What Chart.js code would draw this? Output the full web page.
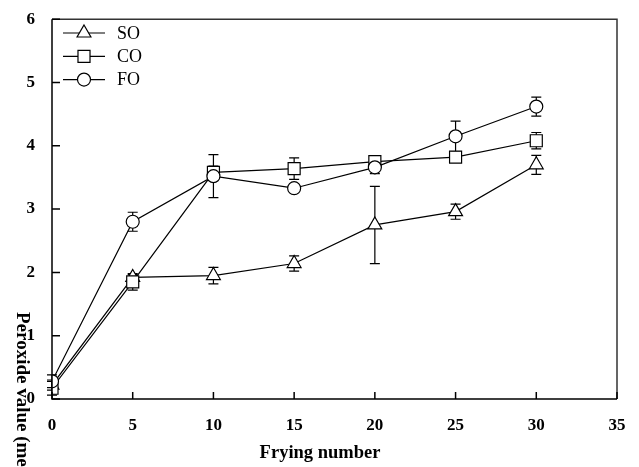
<!DOCTYPE html>
<html>
<head>
<meta charset="utf-8">
<script src="https://cdn.jsdelivr.net/npm/chart.js@4.4.1/dist/chart.umd.min.js"></script>
<style>
  body { margin: 0; background: #fff; }
  #wrap { width: 639px; height: 467px; }
</style>
</head>
<body>
<div id="wrap"><canvas id="chartPV"></canvas></div>
<script>
const frying = [0, 5, 10, 15, 20, 25, 30];
const soVals = [0.22, 1.92, 1.95, 2.14, 2.75, 2.96, 3.70];
const soErr  = [0.08, 0.05, 0.13, 0.12, 0.61, 0.12, 0.15];
const coVals = [0.17, 1.85, 3.58, 3.64, 3.75, 3.82, 4.08];
const coErr  = [0.11, 0.13, 0.10, 0.17, 0.05, 0.05, 0.13];
const foVals = [0.28, 2.80, 3.52, 3.33, 3.66, 4.15, 4.62];
const foErr  = [0.10, 0.15, 0.34, 0.06, 0.10, 0.24, 0.15];
const xTicks = [0, 5, 10, 15, 20, 25, 30, 35];
const yTicks = [0, 1, 2, 3, 4, 5, 6];

const serif = "'Liberation Serif', 'Times New Roman', serif";
const pts = vals => vals.map((v, i) => ({ x: frying[i], y: v }));

// order: lower value is drawn on top, so FO sits above CO above SO
const series = [
  { label: 'SO', data: pts(soVals), err: soErr, pointStyle: 'triangle', pointRadius: 8, order: 2 },
  { label: 'CO', data: pts(coVals), err: coErr, pointStyle: 'rect', pointRadius: 8.5, order: 1 },
  { label: 'FO', data: pts(foVals), err: foErr, pointStyle: 'circle', pointRadius: 6.5, order: 0 }
];

// error bars under the markers
const errorBars = {
  id: 'errorBars',
  beforeDatasetsDraw(chart) {
    const { ctx, scales: { x, y } } = chart;
    ctx.save();
    ctx.strokeStyle = '#000';
    ctx.lineWidth = 1.2;
    chart.data.datasets.forEach(ds => {
      ds.data.forEach((p, i) => {
        const e = ds.err[i];
        const px = x.getPixelForValue(p.x);
        const top = y.getPixelForValue(p.y + e);
        const bot = y.getPixelForValue(p.y - e);
        ctx.beginPath();
        ctx.moveTo(px, top); ctx.lineTo(px, bot);
        ctx.moveTo(px - 5, top); ctx.lineTo(px + 5, top);
        ctx.moveTo(px - 5, bot); ctx.lineTo(px + 5, bot);
        ctx.stroke();
      });
    });
    ctx.restore();
  }
};

// box, inward ticks, titles and legend
const decor = {
  id: 'decor',
  afterDraw(chart) {
    const { ctx, chartArea: a, scales: { x, y } } = chart;
    ctx.save();
    ctx.lineWidth = 1.5;
    ctx.strokeStyle = '#333';
    ctx.beginPath();
    ctx.moveTo(a.left, a.top); ctx.lineTo(a.right, a.top); ctx.lineTo(a.right, a.bottom);
    ctx.stroke();
    ctx.strokeStyle = '#000';
    ctx.beginPath();
    ctx.moveTo(a.left, a.top); ctx.lineTo(a.left, a.bottom); ctx.lineTo(a.right, a.bottom);
    ctx.stroke();
    ctx.beginPath();
    xTicks.forEach(v => {
      const px = x.getPixelForValue(v);
      ctx.moveTo(px, a.bottom); ctx.lineTo(px, a.bottom - 7);
    });
    yTicks.forEach(v => {
      const py = y.getPixelForValue(v);
      ctx.moveTo(a.left, py); ctx.lineTo(a.left + 8, py);
    });
    ctx.stroke();

    // axis titles
    ctx.fillStyle = '#000';
    ctx.font = 'bold 18.5px ' + serif;
    ctx.textAlign = 'center';
    ctx.textBaseline = 'middle';
    ctx.fillText('Frying number', 320, 453);
    ctx.save();
    ctx.font = 'bold 19px ' + serif;
    ctx.translate(22, 312);
    ctx.rotate(Math.PI / 2);
    ctx.textAlign = 'left';
    ctx.fillText('Peroxide value (meq/kg)', 0, 0);
    ctx.restore();

    // legend
    ctx.font = '18px ' + serif;
    ctx.textAlign = 'left';
    series.forEach((s, i) => {
      const ly = 33 + i * 23.3;
      ctx.strokeStyle = '#000';
      ctx.lineWidth = 1.2;
      ctx.beginPath();
      ctx.moveTo(63, ly); ctx.lineTo(105, ly);
      ctx.stroke();
      ctx.fillStyle = '#fff';
      Chart.helpers.drawPoint(ctx, {
        pointStyle: s.pointStyle, radius: s.pointRadius, rotation: 0, borderWidth: 1.2
      }, 84, ly);
      ctx.fillStyle = '#000';
      ctx.fillText(s.label, 117, ly + 1);
    });
    ctx.restore();
  }
};

new Chart(document.getElementById('chartPV'), {
  type: 'line',
  data: {
    datasets: series.map(s => ({
      ...s,
      borderColor: '#000',
      borderWidth: 1.2,
      backgroundColor: '#fff',
      pointBackgroundColor: '#fff',
      pointBorderColor: '#000',
      pointBorderWidth: 1.2,
      fill: false,
      tension: 0
    }))
  },
  options: {
    responsive: true,
    maintainAspectRatio: false,
    animation: false,
    layout: { padding: { top: 10, right: 22, left: 0, bottom: 0 } },
    plugins: { legend: { display: false }, tooltip: { enabled: false } },
    scales: {
      x: {
        type: 'linear', min: 0, max: 35,
        afterBuildTicks: s => { s.ticks = xTicks.map(v => ({ value: v })); },
        afterFit: s => { s.height = 68; },
        grid: { display: false },
        border: { display: false },
        ticks: { color: '#000', padding: 8, font: { family: serif, size: 17, weight: 'bold' } }
      },
      y: {
        type: 'linear', min: 0, max: 6,
        afterBuildTicks: s => { s.ticks = yTicks.map(v => ({ value: v })); },
        afterFit: s => { s.width = 52; },
        grid: { display: false },
        border: { display: false },
        ticks: { color: '#000', padding: 9, font: { family: serif, size: 17, weight: 'bold' } }
      }
    }
  },
  plugins: [errorBars, decor]
});
</script>
</body>
</html>
